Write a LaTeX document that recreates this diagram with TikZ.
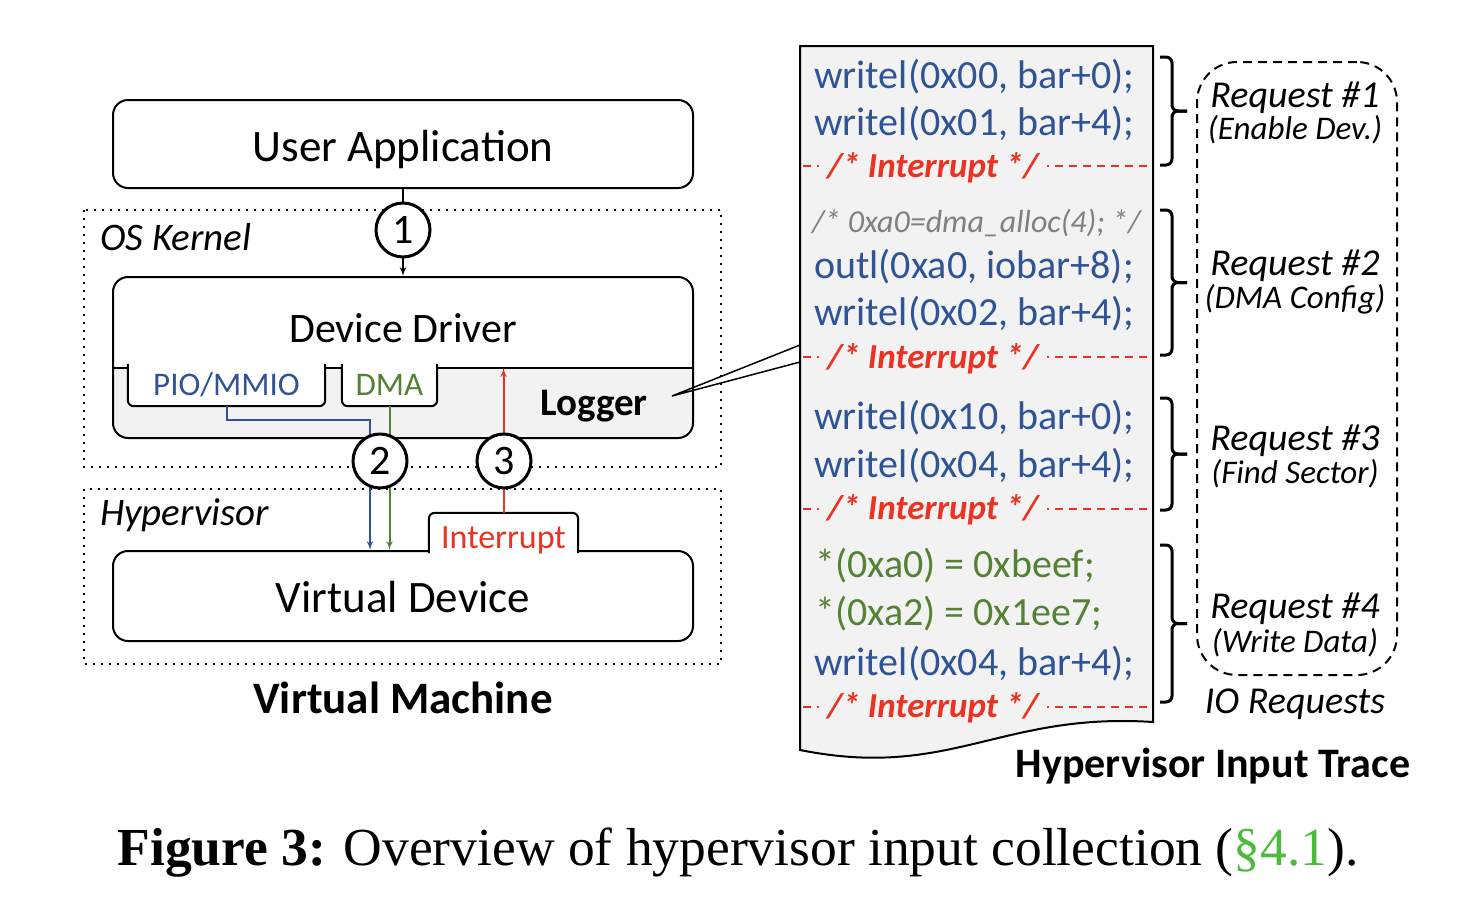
\documentclass[tikz,border=0pt]{standalone}
\usepackage{fontspec}
\setmainfont{Carlito}
\newfontfamily\capfont{Liberation Serif}
\usetikzlibrary{arrows,backgrounds}

\definecolor{codeblue}{RGB}{47,84,150}
\definecolor{codegreen}{RGB}{84,130,53}
\definecolor{intred}{RGB}{234,51,35}
\definecolor{tracegray}{RGB}{242,242,242}
\definecolor{commentgray}{RGB}{128,128,128}
\definecolor{secgreen}{RGB}{76,187,59}

\newcommand{\fsz}[1]{\fontsize{#1}{#1}\selectfont}

\tikzstyle{line} = [draw, line width=2pt, -latex']
\tikzstyle{box} = [draw, line width=2pt, rounded corners=15pt, minimum width=580pt, inner sep=0pt]
\tikzstyle{layer} = [draw, line width=2pt, dash pattern=on 2pt off 6pt]
\tikzstyle{lbl} = [anchor=base, inner sep=0pt, font=\fsz{45}]
\tikzstyle{num} = [draw, circle, line width=3pt, fill=white, minimum size=54pt, inner sep=0pt, font=\fsz{42}]
\tikzstyle{tab} = [minimum height=42pt, inner sep=0pt, font=\fsz{33}]
\tikzstyle{code} = [anchor=base west, inner sep=0pt, font=\fsz{40}, text=codeblue]
\tikzstyle{intr} = [anchor=base, fill=tracegray, inner xsep=8pt, inner ysep=0pt, text=intred, font=\fsz{35}\bfseries\itshape]
\tikzstyle{intline} = [draw=intred, line width=2pt, dash pattern=on 8pt off 6pt]
\tikzstyle{req} = [anchor=base, inner sep=0pt, font=\fsz{38}\itshape]
\tikzstyle{reqsub} = [anchor=base, inner sep=0pt, font=\fsz{33}\itshape]
\tikzstyle{brc} = [draw, line width=3pt, rounded corners=6pt]

% request brace: top, bottom
\newcommand{\reqbrace}[2]{%
	\draw [brc] (1160,#1) -- (1172,#1) -- (1172,{(#1+#2)/2}) -- (1187,{(#1+#2)/2});
	\draw [brc] (1187,{(#1+#2)/2}) -- (1172,{(#1+#2)/2}) -- (1172,#2) -- (1160,#2);}

\begin{document}
\begin{tikzpicture}[x=1pt, y=-1pt]
\useasboundingbox (0,0) rectangle (1458,916);

% virtual machine
\draw [layer] (84,210) rectangle (721,467);
\node [anchor=base west, inner sep=0pt, font=\fsz{39}\itshape] (oslbl) at (100,250) {OS Kernel};
\draw [layer] (84,489) rectangle (721,664);
\node [anchor=base west, inner sep=0pt, font=\fsz{39}\itshape] (hvlbl) at (100,525) {Hypervisor};

\node [box, minimum height=88pt] (app) at (403,144) {};
\node [lbl] (applbl) at (403,161) {User Application};

\node [box, minimum height=161pt] (dd) at (403,357.5) {};
\node [lbl, font=\fsz{42}] (ddlbl) at (403,342) {Device Driver};
\coordinate (split) at (113,368);
\begin{scope}[on background layer]
	\fill [tracegray] (split) {[rounded corners=15pt] -- (113,438) -- (693,438)} -- (693,368) -- cycle;
	\draw [line width=2pt] (split) -- (693,368);
\end{scope}

\node [tab, fill=white, minimum width=197pt, text=codeblue] (pio) at (226.5,385) {PIO/MMIO};
\draw [line width=2pt, rounded corners=6pt] (pio.north west) -- (pio.south west) -- (pio.south east) -- (pio.north east);
\node [tab, fill=white, minimum width=95pt, text=codegreen] (dma) at (389.5,385) {DMA};
\draw [line width=2pt, rounded corners=6pt] (dma.north west) -- (dma.south west) -- (dma.south east) -- (dma.north east);
\node [anchor=base, inner sep=0pt, font=\fsz{39}\bfseries] (logger) at (594,415) {Logger};

\node [box, minimum height=90pt] (vd) at (403,596) {};
\node [lbl] (vdlbl) at (403,612) {Virtual Device};
\node [fill=white, minimum width=149pt, minimum height=40pt, inner sep=0pt, text height=30pt, text depth=0pt, font=\fsz{34}, text=intred] (itab) at (503.5,533) {Interrupt};
\draw [line width=2pt, rounded corners=6pt] (itab.south west) -- (itab.north west) -- (itab.north east) -- (itab.south east);

\path [line] (app.south) -- (dd.north);
\path [line, draw=codeblue] (pio.south) -- ++(0,14) -| ([xshift=-33pt]vd.north);
\path [line, draw=codegreen] (dma.south) -- (dma.south |- vd.north);
\path [line, draw=intred] (itab.north) -- (itab.north |- split);

\node [num] (n1) at (403,230) {1};
\node [num] (n2) at (380,461) {2};
\node [num] (n3) at (504,461) {3};

\node [lbl, font=\fsz{45}\bfseries] (vmlbl) at (403,713) {Virtual Machine};

% input trace
\draw [line width=2pt, fill=tracegray] (800,46) -- (1153,46) -- (1153,722) .. controls (1000,712) and (950,780) .. (800,750) -- cycle;
\coordinate (lgtip) at (672,396);
\coordinate (cl1) at (800,345);
\coordinate (cl2) at (800,362);
\draw [line width=1.5pt] (cl1) -- (lgtip) -- (cl2);

\node [code] (l1) at (814,88) {writel(0x00, bar+0);};
\node [code] (l2) at (814,135) {writel(0x01, bar+4);};
\draw [intline] (803,166) -- (1150,166);
\node [intr] (i1) at (933,177) {/* Interrupt */};

\node [code, text=commentgray, font=\fsz{32}\itshape] (l3) at (812,232) {/* 0xa0=dma\_alloc(4); */};
\node [code] (l4) at (814,278) {outl(0xa0, iobar+8);};
\node [code] (l5) at (814,325) {writel(0x02, bar+4);};
\draw [intline] (803,357) -- (1150,357);
\node [intr] (i2) at (933,368) {/* Interrupt */};

\node [code] (l6) at (814,429) {writel(0x10, bar+0);};
\node [code] (l7) at (814,477) {writel(0x04, bar+4);};
\draw [intline] (803,509) -- (1150,509);
\node [intr] (i3) at (933,519) {/* Interrupt */};

\node [code, text=codegreen] (l8) at (815,577) {*(0xa0) = 0xbeef;};
\node [code, text=codegreen] (l9) at (815,625) {*(0xa2) = 0x1ee7;};
\node [code] (l10) at (814,675) {writel(0x04, bar+4);};
\draw [intline] (803,707) -- (1150,707);
\node [intr] (i4) at (933,717) {/* Interrupt */};

\node [anchor=base, inner sep=0pt, font=\fsz{42}\bfseries] (trlbl) at (1213,777) {Hypervisor Input Trace};

% io requests
\reqbrace{57}{165}
\reqbrace{210}{355}
\reqbrace{398}{510}
\reqbrace{545}{702}

\node [draw, line width=2pt, dash pattern=on 9pt off 6pt, rounded corners=40pt, minimum width=200pt, minimum height=613pt] (ioreq) at (1297,368.5) {};
\node [req] (r1) at (1295,107) {Request \#1};
\node [reqsub] (s1) at (1295,139) {(Enable Dev.)};
\node [req] (r2) at (1295,275) {Request \#2};
\node [reqsub] (s2) at (1295,308) {(DMA Config)};
\node [req] (r3) at (1295,450) {Request \#3};
\node [reqsub] (s3) at (1295,483) {(Find Sector)};
\node [req] (r4) at (1295,618) {Request \#4};
\node [reqsub] (s4) at (1295,652) {(Write Data)};
\node [req] (iolbl) at (1295,713) {IO Requests};

\node [anchor=base, inner sep=0pt, font=\capfont\fsz{53.5}] (cap) at (738,865) {\textbf{Figure 3:} Overview of hypervisor input collection (\textcolor{secgreen}{\S4.1}).};
\end{tikzpicture}
\end{document}
